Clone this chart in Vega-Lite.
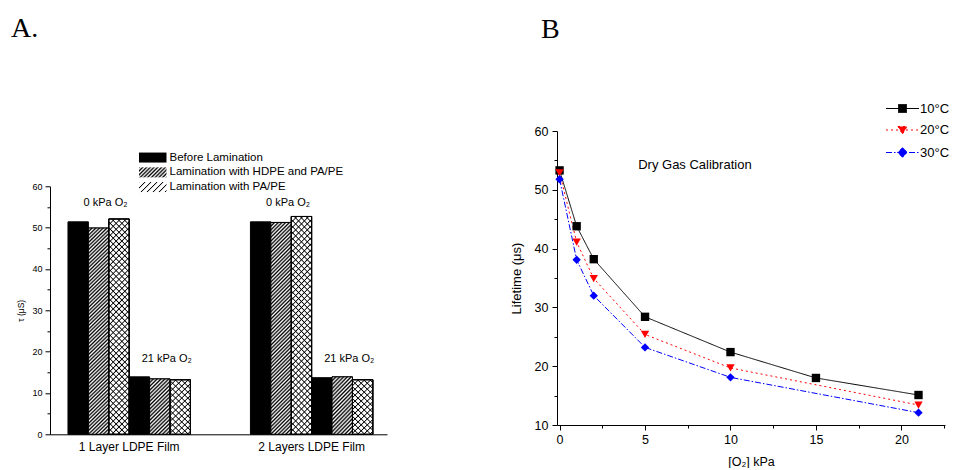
{
  "$schema": "https://vega.github.io/schema/vega-lite/v6.json",
  "padding": {"left": 11, "top": 14, "right": 0, "bottom": 0},
  "spacing": 123,
  "config": {
    "view": {"stroke": null},
    "axis": {"grid": false, "domainColor": "#000", "tickColor": "#000", "labelColor": "#000", "titleColor": "#000", "labelFont": "Liberation Sans", "titleFont": "Liberation Sans", "titleFontWeight": "normal"},
    "legend": {"labelFont": "Liberation Sans", "labelColor": "#000"},
    "text": {"font": "Liberation Sans", "color": "#000"},
    "title": {"font": "Liberation Serif", "fontWeight": "normal", "color": "#000", "fontSize": 28, "anchor": "start", "frame": "bounds"}
  },
  "hconcat": [
    {
      "spacing": 14.3,
      "vconcat": [
        {
          "width": 337,
          "height": 1,
          "title": {"text": "A.", "offset": 82.7, "dx": -39},
          "data": {"values": [{"t": ""}]},
          "mark": {"type": "text"},
          "encoding": {"text": {"field": "t"}}
        },
        {
          "width": 337,
          "height": 248,
          "data": {"values": [
            {"film": "1 Layer LDPE Film", "lam": "Before Lamination", "key": "0|B", "tau": 51.4},
            {"film": "1 Layer LDPE Film", "lam": "Lamination with HDPE and PA/PE", "key": "0|H", "tau": 49.9},
            {"film": "1 Layer LDPE Film", "lam": "Lamination with  PA/PE", "key": "0|P", "tau": 52.1},
            {"film": "1 Layer LDPE Film", "lam": "Before Lamination", "key": "21|B", "tau": 13.9},
            {"film": "1 Layer LDPE Film", "lam": "Lamination with HDPE and PA/PE", "key": "21|H", "tau": 13.4},
            {"film": "1 Layer LDPE Film", "lam": "Lamination with  PA/PE", "key": "21|P", "tau": 13.2},
            {"film": "2 Layers LDPE Film", "lam": "Before Lamination", "key": "0|B", "tau": 51.4},
            {"film": "2 Layers LDPE Film", "lam": "Lamination with HDPE and PA/PE", "key": "0|H", "tau": 51.25},
            {"film": "2 Layers LDPE Film", "lam": "Lamination with  PA/PE", "key": "0|P", "tau": 52.7},
            {"film": "2 Layers LDPE Film", "lam": "Before Lamination", "key": "21|B", "tau": 13.7},
            {"film": "2 Layers LDPE Film", "lam": "Lamination with HDPE and PA/PE", "key": "21|H", "tau": 13.9},
            {"film": "2 Layers LDPE Film", "lam": "Lamination with  PA/PE", "key": "21|P", "tau": 13.2}
          ]},
          "encoding": {
            "x": {"field": "film", "type": "nominal", "sort": ["1 Layer LDPE Film", "2 Layers LDPE Film"], "scale": {"paddingInner": 0.329, "paddingOuter": 0.088, "align": 0.56}, "axis": {"title": null, "labelAngle": 0, "ticks": false, "labelFontSize": 12, "labelPadding": 7}},
            "xOffset": {"field": "key", "type": "nominal", "scale": {"domain": ["0|B", "0|H", "0|P", "21|B", "21|H", "21|P"], "paddingInner": 0, "paddingOuter": 0}},
            "y": {"field": "tau", "type": "quantitative", "scale": {"domain": [0, 60], "nice": false}, "axis": {"values": [0, 5, 10, 15, 20, 25, 30, 35, 40, 45, 50, 55, 60], "labelExpr": "datum.value % 10 === 0 ? datum.label : ''", "tickSize": {"condition": {"test": "datum.value % 10 === 0", "value": 5}, "value": 3}, "title": "τ (μS)", "titleFontSize": 8.5, "titlePadding": 6, "labelFontSize": 9, "labelPadding": 3}}
          },
          "resolve": {"scale": {"shape": "independent"}},
          "layer": [
            {
              "transform": [{"filter": "datum.lam === 'Before Lamination'"}],
              "mark": {"type": "point", "opacity": 0, "filled": true, "fill": "#000000", "stroke": "#000000", "strokeWidth": 1},
              "encoding": {
                "shape": {"field": "lam", "type": "nominal", "scale": {"range": ["M-2.75,-1H2.75V1H-2.75Z"]},
                  "legend": {"orient": "none", "legendX": 97, "legendY": -34.5, "title": null, "symbolSize": 100, "labelOffset": 11, "labelFontSize": 11.5, "labelLimit": 400, "symbolOpacity": 1, "symbolStrokeColor": "#000", "symbolStrokeWidth": 1}}
              }
            },
            {
              "transform": [{"filter": "datum.lam === 'Lamination with HDPE and PA/PE'"}],
              "mark": {"type": "point", "opacity": 0, "filled": true, "stroke": "#000000", "strokeWidth": 1, "fill": {"gradient": "linear", "x1": 0, "y1": 0, "x2": 1.2044, "y2": 0.438, "stops": [
                {"offset": 0, "color": "#000"}, {"offset": 0.05, "color": "#fff"}, {"offset": 0.1, "color": "#000"}, {"offset": 0.15, "color": "#fff"}, {"offset": 0.2, "color": "#000"}, {"offset": 0.25, "color": "#fff"}, {"offset": 0.3, "color": "#000"}, {"offset": 0.35, "color": "#fff"}, {"offset": 0.4, "color": "#000"}, {"offset": 0.45, "color": "#fff"}, {"offset": 0.5, "color": "#000"}, {"offset": 0.55, "color": "#fff"}, {"offset": 0.6, "color": "#000"}, {"offset": 0.65, "color": "#fff"}, {"offset": 0.7, "color": "#000"}, {"offset": 0.75, "color": "#fff"}, {"offset": 0.8, "color": "#000"}, {"offset": 0.85, "color": "#fff"}, {"offset": 0.9, "color": "#000"}, {"offset": 0.95, "color": "#fff"}, {"offset": 1, "color": "#000"}]}},
              "encoding": {
                "shape": {"field": "lam", "type": "nominal", "scale": {"range": ["M-2.75,-1H2.75V1H-2.75Z"]},
                  "legend": {"orient": "none", "legendX": 97, "legendY": -19.7, "title": null, "symbolSize": 100, "labelOffset": 11, "labelFontSize": 11.5, "labelLimit": 400, "symbolOpacity": 1, "symbolStrokeColor": "#000", "symbolStrokeWidth": 1}}
              }
            },
            {
              "transform": [{"filter": "datum.lam === 'Lamination with  PA/PE'"}],
              "mark": {"type": "point", "opacity": 0, "filled": true, "stroke": "#000000", "strokeWidth": 1, "fill": {"gradient": "linear", "x1": 0, "y1": 0, "x2": 1.2044, "y2": 0.438, "stops": [
                {"offset": 0, "color": "#000"}, {"offset": 0.03, "color": "#fff"}, {"offset": 0.13, "color": "#fff"}, {"offset": 0.16, "color": "#000"}, {"offset": 0.19, "color": "#fff"}, {"offset": 0.29, "color": "#fff"}, {"offset": 0.32, "color": "#000"}, {"offset": 0.35, "color": "#fff"}, {"offset": 0.45, "color": "#fff"}, {"offset": 0.48, "color": "#000"}, {"offset": 0.51, "color": "#fff"}, {"offset": 0.61, "color": "#fff"}, {"offset": 0.64, "color": "#000"}, {"offset": 0.67, "color": "#fff"}, {"offset": 0.77, "color": "#fff"}, {"offset": 0.8, "color": "#000"}, {"offset": 0.83, "color": "#fff"}, {"offset": 0.93, "color": "#fff"}, {"offset": 0.96, "color": "#000"}, {"offset": 0.99, "color": "#fff"}]}},
              "encoding": {
                "shape": {"field": "lam", "type": "nominal", "scale": {"range": ["M-2.75,-1H2.75V1H-2.75Z"]},
                  "legend": {"orient": "none", "legendX": 97, "legendY": -5, "title": null, "symbolSize": 100, "labelOffset": 11, "labelFontSize": 11.5, "labelLimit": 400, "symbolOpacity": 1, "symbolStrokeColor": "#000", "symbolStrokeWidth": 1}}
              }
            },
            {
              "mark": {"type": "bar", "stroke": "#000", "strokeWidth": 1},
              "encoding": {
                "fill": {"condition": {"test": "datum.lam === 'Before Lamination'", "value": "#000000"}, "value": "#ffffff"}
              }
            },
            {
              "transform": [{"filter": "datum.key === '0|H'"}],
              "mark": {"type": "bar", "stroke": "#000", "strokeWidth": 1, "fill": {"gradient": "linear", "x1": 0, "y1": 0, "x2": 0.1045, "y2": 1.0862, "stops": [
                {"offset": 0, "color": "#000"}, {"offset": 0.008, "color": "#fff"}, {"offset": 0.016, "color": "#000"}, {"offset": 0.024, "color": "#fff"}, {"offset": 0.032, "color": "#000"}, {"offset": 0.04, "color": "#fff"}, {"offset": 0.048, "color": "#000"}, {"offset": 0.056, "color": "#fff"}, {"offset": 0.064, "color": "#000"}, {"offset": 0.072, "color": "#fff"},
                {"offset": 0.08, "color": "#000"}, {"offset": 0.088, "color": "#fff"}, {"offset": 0.096, "color": "#000"}, {"offset": 0.104, "color": "#fff"}, {"offset": 0.112, "color": "#000"}, {"offset": 0.12, "color": "#fff"}, {"offset": 0.128, "color": "#000"}, {"offset": 0.136, "color": "#fff"}, {"offset": 0.144, "color": "#000"}, {"offset": 0.152, "color": "#fff"},
                {"offset": 0.16, "color": "#000"}, {"offset": 0.168, "color": "#fff"}, {"offset": 0.176, "color": "#000"}, {"offset": 0.184, "color": "#fff"}, {"offset": 0.192, "color": "#000"}, {"offset": 0.2, "color": "#fff"}, {"offset": 0.208, "color": "#000"}, {"offset": 0.216, "color": "#fff"}, {"offset": 0.224, "color": "#000"}, {"offset": 0.232, "color": "#fff"},
                {"offset": 0.24, "color": "#000"}, {"offset": 0.248, "color": "#fff"}, {"offset": 0.256, "color": "#000"}, {"offset": 0.264, "color": "#fff"}, {"offset": 0.272, "color": "#000"}, {"offset": 0.28, "color": "#fff"}, {"offset": 0.288, "color": "#000"}, {"offset": 0.296, "color": "#fff"}, {"offset": 0.304, "color": "#000"}, {"offset": 0.312, "color": "#fff"},
                {"offset": 0.32, "color": "#000"}, {"offset": 0.328, "color": "#fff"}, {"offset": 0.336, "color": "#000"}, {"offset": 0.344, "color": "#fff"}, {"offset": 0.352, "color": "#000"}, {"offset": 0.36, "color": "#fff"}, {"offset": 0.368, "color": "#000"}, {"offset": 0.376, "color": "#fff"}, {"offset": 0.384, "color": "#000"}, {"offset": 0.392, "color": "#fff"},
                {"offset": 0.4, "color": "#000"}, {"offset": 0.408, "color": "#fff"}, {"offset": 0.416, "color": "#000"}, {"offset": 0.424, "color": "#fff"}, {"offset": 0.432, "color": "#000"}, {"offset": 0.44, "color": "#fff"}, {"offset": 0.448, "color": "#000"}, {"offset": 0.456, "color": "#fff"}, {"offset": 0.464, "color": "#000"}, {"offset": 0.472, "color": "#fff"},
                {"offset": 0.48, "color": "#000"}, {"offset": 0.488, "color": "#fff"}, {"offset": 0.496, "color": "#000"}, {"offset": 0.504, "color": "#fff"}, {"offset": 0.512, "color": "#000"}, {"offset": 0.52, "color": "#fff"}, {"offset": 0.528, "color": "#000"}, {"offset": 0.536, "color": "#fff"}, {"offset": 0.544, "color": "#000"}, {"offset": 0.552, "color": "#fff"},
                {"offset": 0.56, "color": "#000"}, {"offset": 0.568, "color": "#fff"}, {"offset": 0.576, "color": "#000"}, {"offset": 0.584, "color": "#fff"}, {"offset": 0.592, "color": "#000"}, {"offset": 0.6, "color": "#fff"}, {"offset": 0.608, "color": "#000"}, {"offset": 0.616, "color": "#fff"}, {"offset": 0.624, "color": "#000"}, {"offset": 0.632, "color": "#fff"},
                {"offset": 0.64, "color": "#000"}, {"offset": 0.648, "color": "#fff"}, {"offset": 0.656, "color": "#000"}, {"offset": 0.664, "color": "#fff"}, {"offset": 0.672, "color": "#000"}, {"offset": 0.68, "color": "#fff"}, {"offset": 0.688, "color": "#000"}, {"offset": 0.696, "color": "#fff"}, {"offset": 0.704, "color": "#000"}, {"offset": 0.712, "color": "#fff"},
                {"offset": 0.72, "color": "#000"}, {"offset": 0.728, "color": "#fff"}, {"offset": 0.736, "color": "#000"}, {"offset": 0.744, "color": "#fff"}, {"offset": 0.752, "color": "#000"}, {"offset": 0.76, "color": "#fff"}, {"offset": 0.768, "color": "#000"}, {"offset": 0.776, "color": "#fff"}, {"offset": 0.784, "color": "#000"}, {"offset": 0.792, "color": "#fff"},
                {"offset": 0.8, "color": "#000"}, {"offset": 0.808, "color": "#fff"}, {"offset": 0.816, "color": "#000"}, {"offset": 0.824, "color": "#fff"}, {"offset": 0.832, "color": "#000"}, {"offset": 0.84, "color": "#fff"}, {"offset": 0.848, "color": "#000"}, {"offset": 0.856, "color": "#fff"}, {"offset": 0.864, "color": "#000"}, {"offset": 0.872, "color": "#fff"},
                {"offset": 0.88, "color": "#000"}, {"offset": 0.888, "color": "#fff"}, {"offset": 0.896, "color": "#000"}, {"offset": 0.904, "color": "#fff"}, {"offset": 0.912, "color": "#000"}, {"offset": 0.92, "color": "#fff"}, {"offset": 0.928, "color": "#000"}, {"offset": 0.936, "color": "#fff"}, {"offset": 0.944, "color": "#000"}, {"offset": 0.952, "color": "#fff"},
                {"offset": 0.96, "color": "#000"}, {"offset": 0.968, "color": "#fff"}, {"offset": 0.976, "color": "#000"}, {"offset": 0.984, "color": "#fff"}, {"offset": 0.992, "color": "#000"}, {"offset": 1, "color": "#fff"}]}}
            },
            {
              "transform": [{"filter": "datum.key === '21|H'"}],
              "mark": {"type": "bar", "stroke": "#000", "strokeWidth": 1, "fill": {"gradient": "linear", "x1": 0, "y1": 0, "x2": 0.4384, "y2": 1.2042, "stops": [
                {"offset": 0, "color": "#000"}, {"offset": 0.025, "color": "#fff"}, {"offset": 0.05, "color": "#000"}, {"offset": 0.075, "color": "#fff"}, {"offset": 0.1, "color": "#000"}, {"offset": 0.125, "color": "#fff"}, {"offset": 0.15, "color": "#000"}, {"offset": 0.175, "color": "#fff"}, {"offset": 0.2, "color": "#000"}, {"offset": 0.225, "color": "#fff"},
                {"offset": 0.25, "color": "#000"}, {"offset": 0.275, "color": "#fff"}, {"offset": 0.3, "color": "#000"}, {"offset": 0.325, "color": "#fff"}, {"offset": 0.35, "color": "#000"}, {"offset": 0.375, "color": "#fff"}, {"offset": 0.4, "color": "#000"}, {"offset": 0.425, "color": "#fff"}, {"offset": 0.45, "color": "#000"}, {"offset": 0.475, "color": "#fff"},
                {"offset": 0.5, "color": "#000"}, {"offset": 0.525, "color": "#fff"}, {"offset": 0.55, "color": "#000"}, {"offset": 0.575, "color": "#fff"}, {"offset": 0.6, "color": "#000"}, {"offset": 0.625, "color": "#fff"}, {"offset": 0.65, "color": "#000"}, {"offset": 0.675, "color": "#fff"}, {"offset": 0.7, "color": "#000"}, {"offset": 0.725, "color": "#fff"},
                {"offset": 0.75, "color": "#000"}, {"offset": 0.775, "color": "#fff"}, {"offset": 0.8, "color": "#000"}, {"offset": 0.825, "color": "#fff"}, {"offset": 0.85, "color": "#000"}, {"offset": 0.875, "color": "#fff"}, {"offset": 0.9, "color": "#000"}, {"offset": 0.925, "color": "#fff"}, {"offset": 0.95, "color": "#000"}, {"offset": 0.975, "color": "#fff"}, {"offset": 1, "color": "#000"}]}}
            },
            {
              "transform": [{"filter": "datum.key === '0|P'"}],
              "mark": {"type": "bar", "stroke": "#000", "strokeWidth": 1, "fill": {"gradient": "linear", "x1": 0, "y1": 0, "x2": 0.1045, "y2": 1.0862, "stops": [
                {"offset": 0, "color": "#000"}, {"offset": 0.005, "color": "transparent"}, {"offset": 0.02, "color": "transparent"}, {"offset": 0.025, "color": "#000"}, {"offset": 0.03, "color": "transparent"}, {"offset": 0.045, "color": "transparent"}, {"offset": 0.05, "color": "#000"}, {"offset": 0.055, "color": "transparent"}, {"offset": 0.07, "color": "transparent"}, {"offset": 0.075, "color": "#000"}, {"offset": 0.08, "color": "transparent"}, {"offset": 0.095, "color": "transparent"},
                {"offset": 0.1, "color": "#000"}, {"offset": 0.105, "color": "transparent"}, {"offset": 0.12, "color": "transparent"}, {"offset": 0.125, "color": "#000"}, {"offset": 0.13, "color": "transparent"}, {"offset": 0.145, "color": "transparent"}, {"offset": 0.15, "color": "#000"}, {"offset": 0.155, "color": "transparent"}, {"offset": 0.17, "color": "transparent"}, {"offset": 0.175, "color": "#000"}, {"offset": 0.18, "color": "transparent"}, {"offset": 0.195, "color": "transparent"},
                {"offset": 0.2, "color": "#000"}, {"offset": 0.205, "color": "transparent"}, {"offset": 0.22, "color": "transparent"}, {"offset": 0.225, "color": "#000"}, {"offset": 0.23, "color": "transparent"}, {"offset": 0.245, "color": "transparent"}, {"offset": 0.25, "color": "#000"}, {"offset": 0.255, "color": "transparent"}, {"offset": 0.27, "color": "transparent"}, {"offset": 0.275, "color": "#000"}, {"offset": 0.28, "color": "transparent"}, {"offset": 0.295, "color": "transparent"},
                {"offset": 0.3, "color": "#000"}, {"offset": 0.305, "color": "transparent"}, {"offset": 0.32, "color": "transparent"}, {"offset": 0.325, "color": "#000"}, {"offset": 0.33, "color": "transparent"}, {"offset": 0.345, "color": "transparent"}, {"offset": 0.35, "color": "#000"}, {"offset": 0.355, "color": "transparent"}, {"offset": 0.37, "color": "transparent"}, {"offset": 0.375, "color": "#000"}, {"offset": 0.38, "color": "transparent"}, {"offset": 0.395, "color": "transparent"},
                {"offset": 0.4, "color": "#000"}, {"offset": 0.405, "color": "transparent"}, {"offset": 0.42, "color": "transparent"}, {"offset": 0.425, "color": "#000"}, {"offset": 0.43, "color": "transparent"}, {"offset": 0.445, "color": "transparent"}, {"offset": 0.45, "color": "#000"}, {"offset": 0.455, "color": "transparent"}, {"offset": 0.47, "color": "transparent"}, {"offset": 0.475, "color": "#000"}, {"offset": 0.48, "color": "transparent"}, {"offset": 0.495, "color": "transparent"},
                {"offset": 0.5, "color": "#000"}, {"offset": 0.505, "color": "transparent"}, {"offset": 0.52, "color": "transparent"}, {"offset": 0.525, "color": "#000"}, {"offset": 0.53, "color": "transparent"}, {"offset": 0.545, "color": "transparent"}, {"offset": 0.55, "color": "#000"}, {"offset": 0.555, "color": "transparent"}, {"offset": 0.57, "color": "transparent"}, {"offset": 0.575, "color": "#000"}, {"offset": 0.58, "color": "transparent"}, {"offset": 0.595, "color": "transparent"},
                {"offset": 0.6, "color": "#000"}, {"offset": 0.605, "color": "transparent"}, {"offset": 0.62, "color": "transparent"}, {"offset": 0.625, "color": "#000"}, {"offset": 0.63, "color": "transparent"}, {"offset": 0.645, "color": "transparent"}, {"offset": 0.65, "color": "#000"}, {"offset": 0.655, "color": "transparent"}, {"offset": 0.67, "color": "transparent"}, {"offset": 0.675, "color": "#000"}, {"offset": 0.68, "color": "transparent"}, {"offset": 0.695, "color": "transparent"},
                {"offset": 0.7, "color": "#000"}, {"offset": 0.705, "color": "transparent"}, {"offset": 0.72, "color": "transparent"}, {"offset": 0.725, "color": "#000"}, {"offset": 0.73, "color": "transparent"}, {"offset": 0.745, "color": "transparent"}, {"offset": 0.75, "color": "#000"}, {"offset": 0.755, "color": "transparent"}, {"offset": 0.77, "color": "transparent"}, {"offset": 0.775, "color": "#000"}, {"offset": 0.78, "color": "transparent"}, {"offset": 0.795, "color": "transparent"},
                {"offset": 0.8, "color": "#000"}, {"offset": 0.805, "color": "transparent"}, {"offset": 0.82, "color": "transparent"}, {"offset": 0.825, "color": "#000"}, {"offset": 0.83, "color": "transparent"}, {"offset": 0.845, "color": "transparent"}, {"offset": 0.85, "color": "#000"}, {"offset": 0.855, "color": "transparent"}, {"offset": 0.87, "color": "transparent"}, {"offset": 0.875, "color": "#000"}, {"offset": 0.88, "color": "transparent"}, {"offset": 0.895, "color": "transparent"},
                {"offset": 0.9, "color": "#000"}, {"offset": 0.905, "color": "transparent"}, {"offset": 0.92, "color": "transparent"}, {"offset": 0.925, "color": "#000"}, {"offset": 0.93, "color": "transparent"}, {"offset": 0.945, "color": "transparent"}, {"offset": 0.95, "color": "#000"}, {"offset": 0.955, "color": "transparent"}, {"offset": 0.97, "color": "transparent"}, {"offset": 0.975, "color": "#000"}, {"offset": 0.98, "color": "transparent"}, {"offset": 0.995, "color": "transparent"}, {"offset": 1, "color": "#000"}]}}
            },
            {
              "transform": [{"filter": "datum.key === '0|P'"}],
              "mark": {"type": "bar", "stroke": "#000", "strokeWidth": 1, "fill": {"gradient": "linear", "x1": 0, "y1": 1, "x2": 0.1045, "y2": -0.0862, "stops": [
                {"offset": 0, "color": "#000"}, {"offset": 0.005, "color": "transparent"}, {"offset": 0.02, "color": "transparent"}, {"offset": 0.025, "color": "#000"}, {"offset": 0.03, "color": "transparent"}, {"offset": 0.045, "color": "transparent"}, {"offset": 0.05, "color": "#000"}, {"offset": 0.055, "color": "transparent"}, {"offset": 0.07, "color": "transparent"}, {"offset": 0.075, "color": "#000"}, {"offset": 0.08, "color": "transparent"}, {"offset": 0.095, "color": "transparent"},
                {"offset": 0.1, "color": "#000"}, {"offset": 0.105, "color": "transparent"}, {"offset": 0.12, "color": "transparent"}, {"offset": 0.125, "color": "#000"}, {"offset": 0.13, "color": "transparent"}, {"offset": 0.145, "color": "transparent"}, {"offset": 0.15, "color": "#000"}, {"offset": 0.155, "color": "transparent"}, {"offset": 0.17, "color": "transparent"}, {"offset": 0.175, "color": "#000"}, {"offset": 0.18, "color": "transparent"}, {"offset": 0.195, "color": "transparent"},
                {"offset": 0.2, "color": "#000"}, {"offset": 0.205, "color": "transparent"}, {"offset": 0.22, "color": "transparent"}, {"offset": 0.225, "color": "#000"}, {"offset": 0.23, "color": "transparent"}, {"offset": 0.245, "color": "transparent"}, {"offset": 0.25, "color": "#000"}, {"offset": 0.255, "color": "transparent"}, {"offset": 0.27, "color": "transparent"}, {"offset": 0.275, "color": "#000"}, {"offset": 0.28, "color": "transparent"}, {"offset": 0.295, "color": "transparent"},
                {"offset": 0.3, "color": "#000"}, {"offset": 0.305, "color": "transparent"}, {"offset": 0.32, "color": "transparent"}, {"offset": 0.325, "color": "#000"}, {"offset": 0.33, "color": "transparent"}, {"offset": 0.345, "color": "transparent"}, {"offset": 0.35, "color": "#000"}, {"offset": 0.355, "color": "transparent"}, {"offset": 0.37, "color": "transparent"}, {"offset": 0.375, "color": "#000"}, {"offset": 0.38, "color": "transparent"}, {"offset": 0.395, "color": "transparent"},
                {"offset": 0.4, "color": "#000"}, {"offset": 0.405, "color": "transparent"}, {"offset": 0.42, "color": "transparent"}, {"offset": 0.425, "color": "#000"}, {"offset": 0.43, "color": "transparent"}, {"offset": 0.445, "color": "transparent"}, {"offset": 0.45, "color": "#000"}, {"offset": 0.455, "color": "transparent"}, {"offset": 0.47, "color": "transparent"}, {"offset": 0.475, "color": "#000"}, {"offset": 0.48, "color": "transparent"}, {"offset": 0.495, "color": "transparent"},
                {"offset": 0.5, "color": "#000"}, {"offset": 0.505, "color": "transparent"}, {"offset": 0.52, "color": "transparent"}, {"offset": 0.525, "color": "#000"}, {"offset": 0.53, "color": "transparent"}, {"offset": 0.545, "color": "transparent"}, {"offset": 0.55, "color": "#000"}, {"offset": 0.555, "color": "transparent"}, {"offset": 0.57, "color": "transparent"}, {"offset": 0.575, "color": "#000"}, {"offset": 0.58, "color": "transparent"}, {"offset": 0.595, "color": "transparent"},
                {"offset": 0.6, "color": "#000"}, {"offset": 0.605, "color": "transparent"}, {"offset": 0.62, "color": "transparent"}, {"offset": 0.625, "color": "#000"}, {"offset": 0.63, "color": "transparent"}, {"offset": 0.645, "color": "transparent"}, {"offset": 0.65, "color": "#000"}, {"offset": 0.655, "color": "transparent"}, {"offset": 0.67, "color": "transparent"}, {"offset": 0.675, "color": "#000"}, {"offset": 0.68, "color": "transparent"}, {"offset": 0.695, "color": "transparent"},
                {"offset": 0.7, "color": "#000"}, {"offset": 0.705, "color": "transparent"}, {"offset": 0.72, "color": "transparent"}, {"offset": 0.725, "color": "#000"}, {"offset": 0.73, "color": "transparent"}, {"offset": 0.745, "color": "transparent"}, {"offset": 0.75, "color": "#000"}, {"offset": 0.755, "color": "transparent"}, {"offset": 0.77, "color": "transparent"}, {"offset": 0.775, "color": "#000"}, {"offset": 0.78, "color": "transparent"}, {"offset": 0.795, "color": "transparent"},
                {"offset": 0.8, "color": "#000"}, {"offset": 0.805, "color": "transparent"}, {"offset": 0.82, "color": "transparent"}, {"offset": 0.825, "color": "#000"}, {"offset": 0.83, "color": "transparent"}, {"offset": 0.845, "color": "transparent"}, {"offset": 0.85, "color": "#000"}, {"offset": 0.855, "color": "transparent"}, {"offset": 0.87, "color": "transparent"}, {"offset": 0.875, "color": "#000"}, {"offset": 0.88, "color": "transparent"}, {"offset": 0.895, "color": "transparent"},
                {"offset": 0.9, "color": "#000"}, {"offset": 0.905, "color": "transparent"}, {"offset": 0.92, "color": "transparent"}, {"offset": 0.925, "color": "#000"}, {"offset": 0.93, "color": "transparent"}, {"offset": 0.945, "color": "transparent"}, {"offset": 0.95, "color": "#000"}, {"offset": 0.955, "color": "transparent"}, {"offset": 0.97, "color": "transparent"}, {"offset": 0.975, "color": "#000"}, {"offset": 0.98, "color": "transparent"}, {"offset": 0.995, "color": "transparent"}, {"offset": 1, "color": "#000"}]}}
            },
            {
              "transform": [{"filter": "datum.key === '21|P'"}],
              "mark": {"type": "bar", "stroke": "#000", "strokeWidth": 1, "fill": {"gradient": "linear", "x1": 0, "y1": 0, "x2": 0.4384, "y2": 1.2042, "stops": [
                {"offset": 0, "color": "#000"}, {"offset": 0.015, "color": "transparent"}, {"offset": 0.065, "color": "transparent"}, {"offset": 0.08, "color": "#000"}, {"offset": 0.095, "color": "transparent"}, {"offset": 0.145, "color": "transparent"}, {"offset": 0.16, "color": "#000"}, {"offset": 0.175, "color": "transparent"}, {"offset": 0.225, "color": "transparent"}, {"offset": 0.24, "color": "#000"}, {"offset": 0.255, "color": "transparent"}, {"offset": 0.305, "color": "transparent"}, {"offset": 0.32, "color": "#000"}, {"offset": 0.335, "color": "transparent"}, {"offset": 0.385, "color": "transparent"}, {"offset": 0.4, "color": "#000"}, {"offset": 0.415, "color": "transparent"}, {"offset": 0.465, "color": "transparent"}, {"offset": 0.48, "color": "#000"}, {"offset": 0.495, "color": "transparent"},
                {"offset": 0.545, "color": "transparent"}, {"offset": 0.56, "color": "#000"}, {"offset": 0.575, "color": "transparent"}, {"offset": 0.625, "color": "transparent"}, {"offset": 0.64, "color": "#000"}, {"offset": 0.655, "color": "transparent"}, {"offset": 0.705, "color": "transparent"}, {"offset": 0.72, "color": "#000"}, {"offset": 0.735, "color": "transparent"}, {"offset": 0.785, "color": "transparent"}, {"offset": 0.8, "color": "#000"}, {"offset": 0.815, "color": "transparent"}, {"offset": 0.865, "color": "transparent"}, {"offset": 0.88, "color": "#000"}, {"offset": 0.895, "color": "transparent"}, {"offset": 0.945, "color": "transparent"}, {"offset": 0.96, "color": "#000"}, {"offset": 0.975, "color": "transparent"}]}}
            },
            {
              "transform": [{"filter": "datum.key === '21|P'"}],
              "mark": {"type": "bar", "stroke": "#000", "strokeWidth": 1, "fill": {"gradient": "linear", "x1": 0, "y1": 1, "x2": 0.4384, "y2": -0.2042, "stops": [
                {"offset": 0, "color": "#000"}, {"offset": 0.015, "color": "transparent"}, {"offset": 0.065, "color": "transparent"}, {"offset": 0.08, "color": "#000"}, {"offset": 0.095, "color": "transparent"}, {"offset": 0.145, "color": "transparent"}, {"offset": 0.16, "color": "#000"}, {"offset": 0.175, "color": "transparent"}, {"offset": 0.225, "color": "transparent"}, {"offset": 0.24, "color": "#000"}, {"offset": 0.255, "color": "transparent"}, {"offset": 0.305, "color": "transparent"}, {"offset": 0.32, "color": "#000"}, {"offset": 0.335, "color": "transparent"}, {"offset": 0.385, "color": "transparent"}, {"offset": 0.4, "color": "#000"}, {"offset": 0.415, "color": "transparent"}, {"offset": 0.465, "color": "transparent"}, {"offset": 0.48, "color": "#000"}, {"offset": 0.495, "color": "transparent"},
                {"offset": 0.545, "color": "transparent"}, {"offset": 0.56, "color": "#000"}, {"offset": 0.575, "color": "transparent"}, {"offset": 0.625, "color": "transparent"}, {"offset": 0.64, "color": "#000"}, {"offset": 0.655, "color": "transparent"}, {"offset": 0.705, "color": "transparent"}, {"offset": 0.72, "color": "#000"}, {"offset": 0.735, "color": "transparent"}, {"offset": 0.785, "color": "transparent"}, {"offset": 0.8, "color": "#000"}, {"offset": 0.815, "color": "transparent"}, {"offset": 0.865, "color": "transparent"}, {"offset": 0.88, "color": "#000"}, {"offset": 0.895, "color": "transparent"}, {"offset": 0.945, "color": "transparent"}, {"offset": 0.96, "color": "#000"}, {"offset": 0.975, "color": "transparent"}]}}
            },
            {
              "data": {"values": [
                {"film": "1 Layer LDPE Film", "key": "0|H", "tau": 55.2, "label": "0 kPa O₂"},
                {"film": "1 Layer LDPE Film", "key": "21|H", "tau": 17.6, "label": "21 kPa O₂"},
                {"film": "2 Layers LDPE Film", "key": "0|H", "tau": 55.2, "label": "0 kPa O₂"},
                {"film": "2 Layers LDPE Film", "key": "21|H", "tau": 17.6, "label": "21 kPa O₂"}
              ]},
              "mark": {"type": "text", "fontSize": 11, "dx": 7, "baseline": "alphabetic", "align": "center"},
              "encoding": {"text": {"field": "label"}}
            }
          ]
        }
      ]
    },
    {
      "width": 388,
      "height": 294,
      "title": {"text": "B", "offset": 58.2, "dx": 31},
      "data": {"values": [
        {"temp": "10°C", "o2": 0, "life": 53.3},
        {"temp": "10°C", "o2": 1, "life": 43.8},
        {"temp": "10°C", "o2": 2, "life": 38.2},
        {"temp": "10°C", "o2": 5, "life": 28.4},
        {"temp": "10°C", "o2": 10, "life": 22.4},
        {"temp": "10°C", "o2": 15, "life": 18.0},
        {"temp": "10°C", "o2": 21, "life": 15.1},
        {"temp": "20°C", "o2": 0, "life": 52.9},
        {"temp": "20°C", "o2": 1, "life": 41.1},
        {"temp": "20°C", "o2": 2, "life": 34.9},
        {"temp": "20°C", "o2": 5, "life": 25.4},
        {"temp": "20°C", "o2": 10, "life": 19.7},
        {"temp": "20°C", "o2": 21, "life": 13.4},
        {"temp": "30°C", "o2": 0, "life": 51.8},
        {"temp": "30°C", "o2": 1, "life": 38.1},
        {"temp": "30°C", "o2": 2, "life": 32.0},
        {"temp": "30°C", "o2": 5, "life": 23.2},
        {"temp": "30°C", "o2": 10, "life": 18.1},
        {"temp": "30°C", "o2": 21, "life": 12.1}
      ]},
      "encoding": {
        "x": {"field": "o2", "type": "quantitative", "scale": {"domain": [-0.15, 22.55], "nice": false, "zero": false}, "axis": {"values": [0, 2.5, 5, 7.5, 10, 12.5, 15, 17.5, 20, 22.5], "labelExpr": "datum.value % 5 === 0 ? datum.label : ''", "tickSize": {"condition": {"test": "datum.value % 5 === 0", "value": 5}, "value": 3}, "title": "[O₂] kPa", "titleFontSize": 12.5, "titlePadding": 10, "labelFontSize": 12.5, "labelPadding": 3}},
        "y": {"field": "life", "type": "quantitative", "scale": {"domain": [10, 60], "nice": false, "zero": false}, "axis": {"values": [10, 15, 20, 25, 30, 35, 40, 45, 50, 55, 60], "labelExpr": "datum.value % 10 === 0 ? datum.label : ''", "tickSize": {"condition": {"test": "datum.value % 10 === 0", "value": 5}, "value": 3}, "title": "Lifetime (μs)", "titleFontSize": 13, "titlePadding": 11, "labelFontSize": 12.5, "labelPadding": 4}}
      },
      "resolve": {"scale": {"shape": "independent", "fill": "independent", "stroke": "independent", "strokeDash": "independent"}},
      "layer": [
        {
          "mark": {"type": "line", "strokeWidth": 1},
          "encoding": {
            "color": {"field": "temp", "type": "nominal", "scale": {"domain": ["10°C", "20°C", "30°C"], "range": ["#000000", "#ff0000", "#0000ff"]}, "legend": null},
            "strokeDash": {"field": "temp", "type": "nominal", "scale": {"domain": ["10°C", "20°C", "30°C"], "range": [[1, 0], [2, 3], [6, 2, 1.5, 2]]}, "legend": null}
          }
        },
        {
          "mark": {"type": "point", "filled": true, "size": 70, "opacity": 1},
          "encoding": {
            "color": {"field": "temp", "type": "nominal", "legend": null},
            "shape": {"field": "temp", "type": "nominal", "scale": {"domain": ["10°C", "20°C", "30°C"], "range": ["square", "triangle-down", "diamond"]}, "legend": null}
          }
        },
        {
          "mark": {"type": "point", "opacity": 0, "strokeWidth": 1},
          "encoding": {
            "shape": {"field": "temp", "type": "nominal", "scale": {"domain": ["10°C", "20°C", "30°C"], "range": ["M-3.3,0H3.3M-0.8,-0.8H0.8V0.8H-0.8Z", "M-3.3,0H3.3M-0.9,-0.7H0.9L0,0.85Z", "M-3.3,0H3.3M0,-0.95L0.95,0L0,0.95L-0.95,0Z"]},
              "legend": {"orient": "none", "legendX": 339, "legendY": -29, "title": null, "symbolSize": 100, "labelOffset": 11, "labelFontSize": 13, "rowPadding": 7.5, "symbolOpacity": 1, "symbolStrokeWidth": 1}},
            "fill": {"field": "temp", "type": "nominal", "scale": {"domain": ["10°C", "20°C", "30°C"], "range": ["#000000", "#ff0000", "#0000ff"]}},
            "stroke": {"field": "temp", "type": "nominal", "scale": {"domain": ["10°C", "20°C", "30°C"], "range": ["#000000", "#ff0000", "#0000ff"]}},
            "strokeDash": {"field": "temp", "type": "nominal", "scale": {"domain": ["10°C", "20°C", "30°C"], "range": [[1, 0], [2, 3], [6, 2, 1.5, 2]]}}
          }
        },
        {
          "data": {"values": [{"o2": 4.6, "life": 54.2, "label": "Dry Gas Calibration"}]},
          "mark": {"type": "text", "fontSize": 13, "align": "left", "baseline": "middle"},
          "encoding": {"text": {"field": "label"}}
        }
      ]
    }
  ]
}
